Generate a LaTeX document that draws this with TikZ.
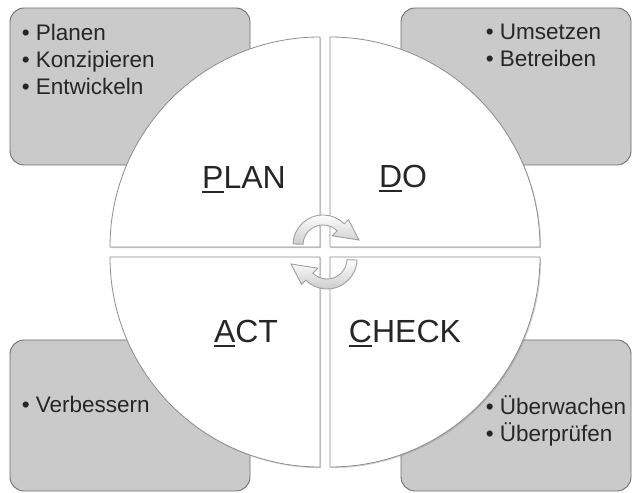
\documentclass[tikz,border=0pt]{standalone}
\usepackage{fontspec}
\setmainfont{Liberation Sans}
\usetikzlibrary{shadows,positioning,calc}
\definecolor{pdcaline}{HTML}{8C8C8C}
\definecolor{pdcabox}{HTML}{CACACA}
\definecolor{pdcaedge}{HTML}{6E6E6E}
\definecolor{pdcatext}{HTML}{262626}
\newcommand{\firstul}[1]{\setbox0\hbox{#1}\rlap{\rule[-4.5pt]{\wd0}{2.2pt}}#1}
\tikzset{
  notebox/.style={rounded corners=14pt, draw=pdcaedge, fill=pdcabox, line width=0.9pt, minimum height=157pt, inner sep=0pt},
  notetext/.style={align=left, anchor=north west, inner sep=0pt, text=pdcatext, font=\fontsize{22.5}{27}\selectfont},
  quarter/.style={fill=white, draw=pdcaline, line width=0.8pt, drop shadow={shadow xshift=1.2pt, shadow yshift=-1.2pt, opacity=0.35}},
  phase/.style={anchor=base, inner sep=0pt, text=pdcatext, font=\fontsize{32}{36}\selectfont},
  turnarrow/.style={draw=gray!75, line width=0.9pt, top color=white, bottom color=gray!40}
}
\begin{document}
\begin{tikzpicture}[x=1pt,y=1pt]
  \useasboundingbox (0,0) rectangle (633,493);
  % grey note boxes behind the circle
  \node[notebox, minimum width=240pt] (planbox) at (130,406.5) {};
  \node[notebox, minimum width=230pt] (dobox) at (516,406.5) {};
  \node[notebox, minimum width=240pt, minimum height=151pt] (actbox) at (130,77.5) {};
  \node[notebox, minimum width=230pt, minimum height=151pt] (checkbox) at (516,77.5) {};

  \node[notetext] (plantext) at ([xshift=12pt,yshift=-16pt]planbox.north west) {• Planen\\• Konzipieren\\• Entwickeln};
  \node[notetext] (dotext) at ([xshift=85pt,yshift=-16pt]dobox.north west) {• Umsetzen\\• Betreiben};
  \node[notetext] (acttext) at ([xshift=12pt,yshift=-56pt]actbox.north west) {• Verbessern};
  \node[notetext] (checktext) at ([xshift=85pt,yshift=-56pt]checkbox.north west) {• Überwachen\\• Überprüfen};

  % four quarters of the circle
  \draw[quarter] (320,246) -- (110,246) arc[start angle=180, end angle=90, radius=210pt] -- cycle;
  \draw[quarter] (330,246) -- (330,456) arc[start angle=90, end angle=0, radius=210pt] -- cycle;
  \draw[quarter] (320,236) -- (320,26) arc[start angle=270, end angle=180, radius=210pt] -- cycle;
  \draw[quarter] (330,236) -- (540,236) arc[start angle=0, end angle=-90, radius=210pt] -- cycle;

  \node[phase] (plan) at (244,304) {\firstul{P}LAN};
  \node[phase] (do) at (403,305) {\firstul{D}O};
  \node[phase] (act) at (246,150) {\firstul{A}CT};
  \node[phase] (check) at (405,150) {\firstul{C}HECK};

  % turning arrows in the middle
  \begin{scope}[shift={(323,248)}]
    \path[turnarrow] (178:30pt) arc[start angle=178, end angle=45, radius=30pt] -- (45:36pt) -- (36pt,5pt)
      -- (45:13pt) -- (45:20pt) arc[start angle=45, end angle=178, radius=20pt] -- cycle;
  \end{scope}
  \begin{scope}[shift={(327,234)}]
    \path[turnarrow] (-2:30pt) arc[start angle=-2, end angle=-135, radius=30pt] -- (225:36pt) -- (-36pt,-5pt)
      -- (225:13pt) -- (225:20pt) arc[start angle=225, end angle=358, radius=20pt] -- cycle;
  \end{scope}
\end{tikzpicture}
\end{document}
